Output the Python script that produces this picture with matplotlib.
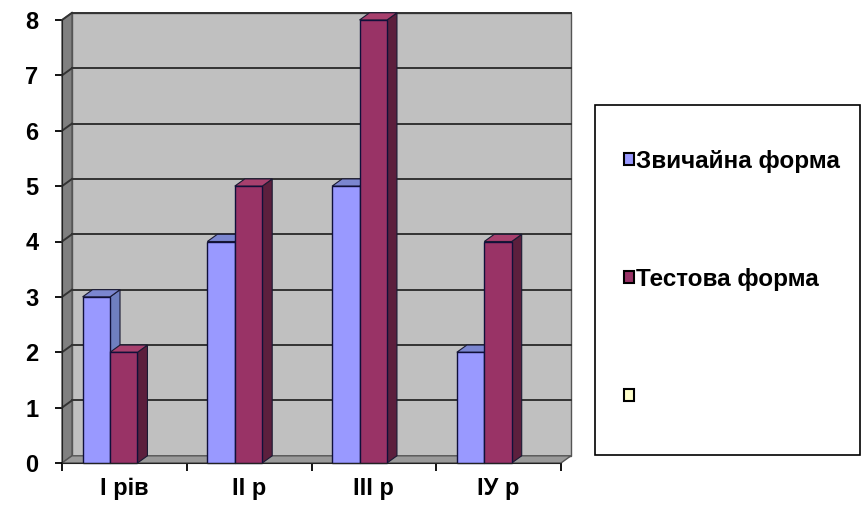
import matplotlib.pyplot as plt
from matplotlib.patches import Polygon, Rectangle

# data
categories = ['І рів', 'ІІ р', 'ІІІ р', 'ІУ р']
zvychaina = [3, 4, 5, 2]
testova = [2, 5, 8, 4]
series_names = ['Звичайна форма', 'Тестова форма', '']
ymax = 8

plt.rcParams['font.family'] = ['Liberation Sans', 'DejaVu Sans']
plt.rcParams['font.weight'] = 'bold'

fig = plt.figure(figsize=(8.63, 5.12), dpi=100)
ax = fig.add_axes([62 / 863, 49 / 512, 499 / 863, 443 / 512])
ax.set_xlim(-0.5, len(categories) - 0.5)
ax.set_ylim(0, ymax)

# depth of the fake 3d effect (data units)
dx, dy = 0.08, 0.13
x0, x1 = -0.5, len(categories) - 0.5

# walls and floor
ax.add_patch(Polygon([(x0 + dx, dy), (x1 + dx, dy), (x1 + dx, ymax + dy), (x0 + dx, ymax + dy)],
                     closed=True, facecolor='#c0c0c0', edgecolor='#555555', lw=1, clip_on=False, zorder=1))
ax.add_patch(Polygon([(x0, 0), (x0 + dx, dy), (x0 + dx, ymax + dy), (x0, ymax)],
                     closed=True, facecolor='#808080', edgecolor='#555555', lw=1, clip_on=False, zorder=1))
ax.add_patch(Polygon([(x0, 0), (x1, 0), (x1 + dx, dy), (x0 + dx, dy)],
                     closed=True, facecolor='#9a9a9a', edgecolor='#555555', lw=1, clip_on=False, zorder=1))

# gridlines on back wall and side wall
for v in range(1, ymax + 1):
    ax.plot([x0 + dx, x1 + dx], [v + dy, v + dy], color='#333333', lw=1.4, clip_on=False, zorder=2)
    ax.plot([x0, x0 + dx], [v, v + dy], color='#333333', lw=1.4, clip_on=False, zorder=2)


def bar3d(xc, h, w, front, side, top, z):
    left, right = xc - w / 2, xc + w / 2
    ax.add_patch(Polygon([(right, 0), (right + dx, dy), (right + dx, h + dy), (right, h)],
                         closed=True, facecolor=side, edgecolor='#1a1a33', lw=0.8, clip_on=False, zorder=z))
    ax.add_patch(Polygon([(left, h), (left + dx, h + dy), (right + dx, h + dy), (right, h)],
                         closed=True, facecolor=top, edgecolor='#1a1a33', lw=0.8, clip_on=False, zorder=z))
    ax.bar(xc, h, w, color=front, edgecolor='#10103a', lw=1.0, clip_on=False, zorder=z)


w = 0.22
for i in range(len(categories)):
    bar3d(i - 0.225, zvychaina[i], w, '#9999ff', '#6f7fc0', '#7b86d0', 3 + i * 2)
    bar3d(i - 0.005, testova[i], w, '#993366', '#5c1f3d', '#a8406e', 4 + i * 2)

# axes styling
for s in ['top', 'right']:
    ax.spines[s].set_visible(False)
ax.spines['left'].set_color('#222222')
ax.spines['bottom'].set_color('#222222')
ax.spines['left'].set_zorder(20)
ax.spines['bottom'].set_zorder(20)
ax.set_facecolor('none')

ax.set_yticks(range(0, ymax + 1))
ax.tick_params(axis='y', length=5, width=1.3, pad=12, labelsize=17, colors='black')
ax.set_xticks([i - 0.5 for i in range(len(categories) + 1)])
ax.set_xticklabels([])
ax.set_xticks(range(len(categories)), minor=True)
ax.set_xticklabels(categories, minor=True, fontsize=17, fontweight='bold')
ax.tick_params(axis='x', which='major', length=6, width=1.3)
ax.tick_params(axis='x', which='minor', length=0, pad=10)

# legend box
fig.patches.append(Rectangle((595 / 863, 57 / 512), 265 / 863, 350 / 512, transform=fig.transFigure,
                             facecolor='white', edgecolor='black', lw=1.2))
handles = [Rectangle((0, 0), 1, 1, facecolor=c, edgecolor='black', lw=1.5)
           for c in ['#9999ff', '#993366', '#ffffcc']]
leg = fig.legend(handles, series_names, loc='upper left', bbox_to_anchor=(624 / 863, 1 - 150 / 512),
                 frameon=False, fontsize=17.5, handlelength=0.4, handleheight=0.4,
                 handletextpad=0.1, labelspacing=3.9, borderpad=0, borderaxespad=0)
for t in leg.get_texts():
    t.set_fontweight('bold')

fig.savefig('out.png', dpi=100)
